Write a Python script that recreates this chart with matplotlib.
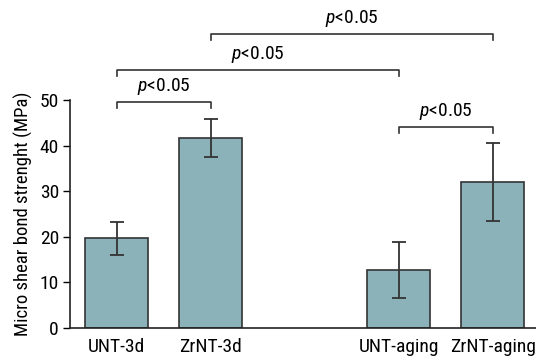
import matplotlib
matplotlib.use("Agg")
import matplotlib.pyplot as plt

# data
groups = ['UNT-3d', 'ZrNT-3d', 'UNT-aging', 'ZrNT-aging']
xpos = [0, 1, 3, 4]
means = [19.7, 41.6, 12.7, 32.0]
errs = [3.6, 4.2, 6.1, 8.5]

# significance brackets: (left index, right index, height)
brackets = [(0, 1, 49.6), (0, 2, 56.6), (1, 3, 64.5), (2, 3, 44.1)]
sig_label = r'$\it{p}$<0.05'

plt.rcParams['font.family'] = ['Roboto Condensed', 'DejaVu Sans']
plt.rcParams['mathtext.fontset'] = 'custom'
plt.rcParams['mathtext.it'] = 'Roboto Condensed:italic'
plt.rcParams['mathtext.rm'] = 'Roboto Condensed'

fig = plt.figure(figsize=(5.36, 3.61), dpi=100)
ax = fig.add_axes([0.1306, 0.0914, 0.8694, 0.6316])

ax.bar(xpos, means, width=0.67, color='#8ab2b8', edgecolor='#333333', linewidth=1.2,
       yerr=errs, error_kw=dict(ecolor='#333333', elinewidth=1.3, capsize=5, capthick=1.3))

ax.set_xlim(-0.495, 4.46)
ax.set_ylim(0, 50)
ax.set_yticks([0, 10, 20, 30, 40, 50])
ax.set_xticks(xpos)
ax.set_xticklabels(groups)
ax.tick_params(axis='y', direction='out', length=5, width=1, labelsize=14, pad=3)
ax.tick_params(axis='x', length=0, labelsize=14, pad=7)
ax.spines['top'].set_visible(False)
ax.spines['right'].set_visible(False)
ax.spines['left'].set_bounds(0, 50)
for s in ['left', 'bottom']:
    ax.spines[s].set_linewidth(1.2)
    ax.spines[s].set_color('#222222')
ax.set_ylabel('Micro shear bond strenght (MPa)', fontsize=13.5, labelpad=5)

drop = 1.3
for i, j, h in brackets:
    x1, x2 = xpos[i], xpos[j]
    ax.plot([x1, x1, x2, x2], [h - drop, h, h, h - drop], color='#333333', lw=1.2,
            clip_on=False)
    ax.text((x1 + x2) / 2, h + 1.0, sig_label, ha='center', va='bottom', fontsize=14)

fig.savefig('out.png', dpi=100)
